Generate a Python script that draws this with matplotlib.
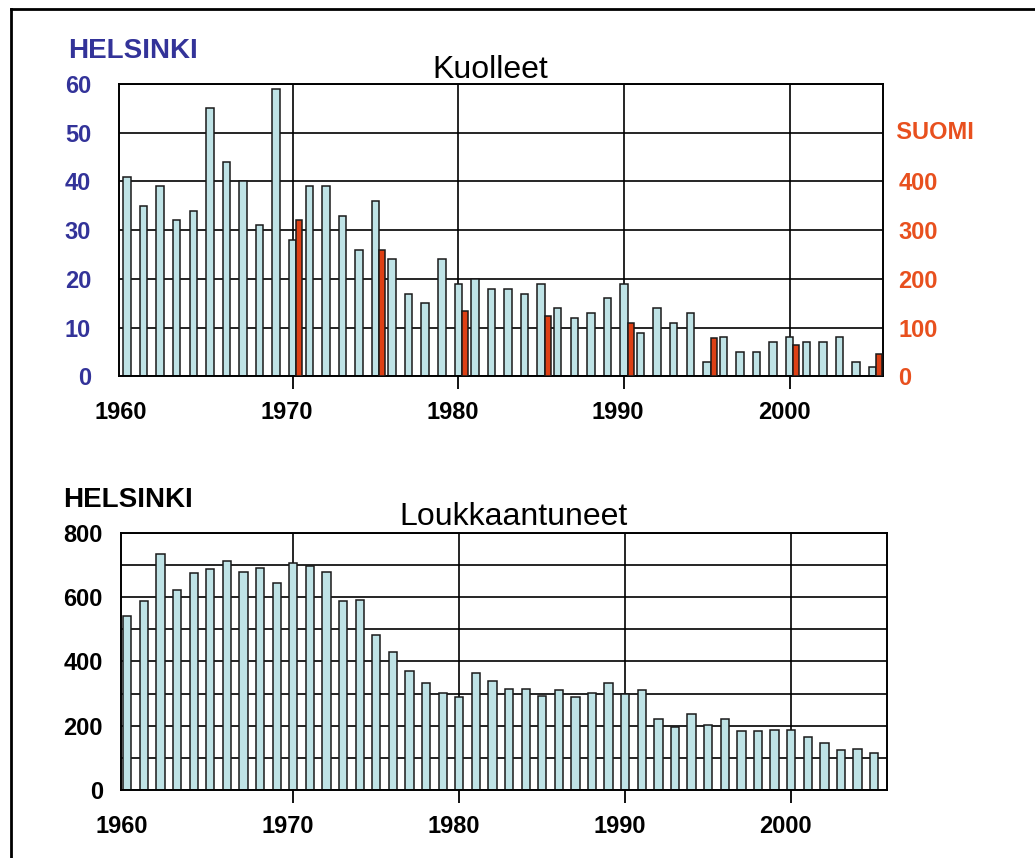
import numpy as np
import matplotlib.pyplot as plt
from matplotlib.lines import Line2D

plt.rcParams['font.family'] = ['Liberation Sans', 'DejaVu Sans']

# Data
vuodet = np.arange(1960, 2006)
kuolleet_hki = [41, 35, 39, 32, 34, 55, 44, 40, 31, 59,
                28, 39, 39, 33, 26, 36, 24, 17, 15, 24,
                19, 20, 18, 18, 17, 19, 14, 12, 13, 16,
                19, 9, 14, 11, 13, 3, 8, 5, 5, 7,
                8, 7, 7, 8, 3, 2]
suomi_vuodet = np.array([1970, 1975, 1980, 1985, 1990, 1995, 2000, 2005])
kuolleet_suomi = [322, 260, 134, 125, 109, 78, 64, 46]
loukk_hki = [543, 588, 735, 624, 675, 688, 713, 678, 690, 644,
             706, 698, 680, 588, 591, 482, 429, 370, 334, 301,
             288, 364, 338, 314, 314, 291, 310, 288, 301, 334,
             298, 310, 220, 197, 236, 201, 220, 183, 183, 187,
             187, 166, 145, 125, 129, 114]
x_labels = ['1960', '1970', '1980', '1990', '2000']

sininen = '#333399'
oranssi = '#e8501e'
vaalea = '#bfe3e6'
reuna = '#1a1a1a'

fig = plt.figure(figsize=(10.35, 8.58), dpi=100)


def akseli(ax, xlim, ylim, yticks, ylab_color, ylab_pad):
    ax.set_xlim(*xlim)
    ax.set_ylim(*ylim)
    ax.set_axisbelow(True)
    ax.set_xticks([1970, 1980, 1990, 2000])
    ax.set_xticklabels([])
    ax.set_xticks([int(v) - 0.35 for v in x_labels], minor=True)
    ax.set_xticklabels(x_labels, minor=True, fontsize=17, fontweight='bold')
    ax.tick_params(axis='x', which='major', direction='out', length=9, width=1.3, color='black')
    ax.tick_params(axis='x', which='minor', length=0, pad=18)
    ax.set_yticks(yticks)
    ax.set_yticklabels([str(v) for v in yticks], fontsize=17, fontweight='bold', color=ylab_color)
    ax.tick_params(axis='y', length=0, pad=ylab_pad)
    ax.grid(True, which='major', color='black', linewidth=1.2)
    for s in ax.spines.values():
        s.set_linewidth(1.4)
        s.set_color('black')


# Kuolleet
ax1 = fig.add_axes([0.115, 0.5612, 0.738, 0.3409])
ax1.bar(vuodet, kuolleet_hki, width=0.45, color=vaalea, edgecolor=reuna, linewidth=1.1, zorder=2)
akseli(ax1, (1959.52, 2005.62), (0, 60), [0, 10, 20, 30, 40, 50, 60], sininen, 20)

ax2 = ax1.twinx()
ax2.bar(suomi_vuodet + 0.4, kuolleet_suomi, width=0.36, color='#dd4015', edgecolor=reuna, linewidth=1.1, zorder=3)
ax2.set_ylim(0, 600)
ax2.set_yticks([0, 100, 200, 300, 400])
ax2.set_yticklabels(['0', '100', '200', '300', '400'], fontsize=17, fontweight='bold', color=oranssi)
ax2.tick_params(axis='y', length=0, pad=11)
for s in ax2.spines.values():
    s.set_visible(False)
ax2.text(1.0, 500, '  SUOMI', transform=ax2.get_yaxis_transform(), ha='left', va='center',
         fontsize=17, fontweight='bold', color=oranssi)

# Loukkaantuneet
ax3 = fig.add_axes([0.1169, 0.0793, 0.7401, 0.2995])
ax3.bar(vuodet, loukk_hki, width=0.5, color=vaalea, edgecolor=reuna, linewidth=1.1, zorder=2)
akseli(ax3, (1959.62, 2005.77), (0, 800), list(range(0, 801, 100)), 'black', 13)
ax3.set_yticks([0, 200, 400, 600, 800])
ax3.set_yticklabels(['0', '200', '400', '600', '800'], fontsize=17, fontweight='bold')
ax3.set_yticks(list(range(100, 800, 200)), minor=True)
ax3.grid(True, which='minor', axis='y', color='black', linewidth=1.2)
ax3.tick_params(axis='y', which='minor', length=0)

# Otsikot
fig.text(68 / 1035, 1 - 51 / 858, 'HELSINKI', fontsize=20, fontweight='bold', color=sininen,
         ha='left', va='center')
fig.text(490 / 1035, 1 - 78 / 858, 'Kuolleet', fontsize=23, ha='center', va='baseline')
fig.text(63 / 1035, 1 - 500 / 858, 'HELSINKI', fontsize=20, fontweight='bold', color='black',
         ha='left', va='center')
fig.text(514 / 1035, 1 - 525 / 858, 'Loukkaantuneet', fontsize=23, ha='center', va='baseline')

# Kehys
fig.add_artist(Line2D([11 / 1035, 11 / 1035], [0, 1 - 9 / 858], color='black', linewidth=2,
                      transform=fig.transFigure))
fig.add_artist(Line2D([11 / 1035, 1], [1 - 9 / 858, 1 - 9 / 858], color='black', linewidth=2,
                      transform=fig.transFigure))

fig.savefig('out.png', dpi=100)
